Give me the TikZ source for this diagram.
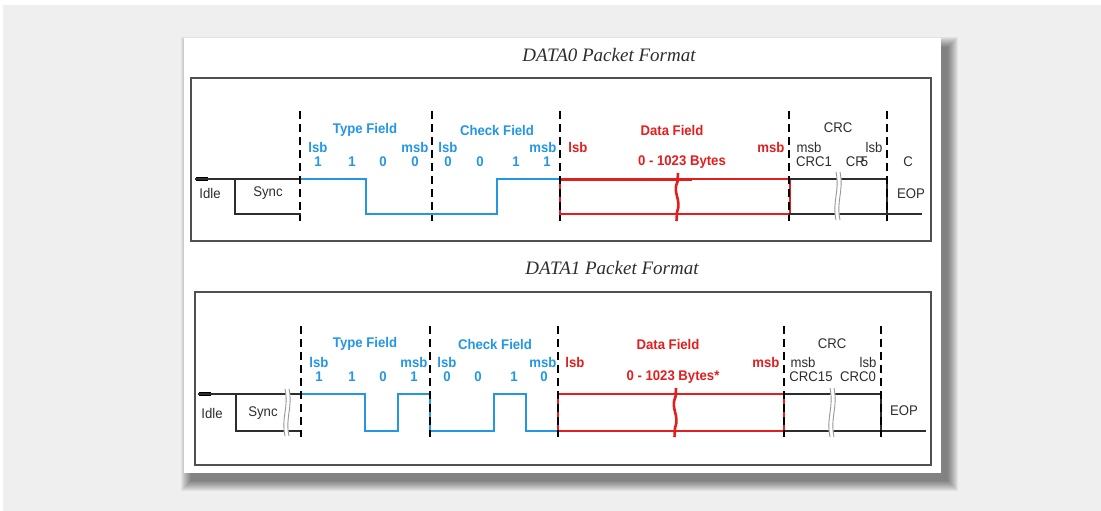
\documentclass[tikz,border=0pt]{standalone}
\usepackage{fontspec}
\setmainfont{Liberation Serif}
\newfontfamily\labelfont[FakeStretch=0.94]{Liberation Sans}

\definecolor{panelgray}{RGB}{239,239,239}
\definecolor{fieldblue}{RGB}{35,150,230}
\definecolor{fieldred}{RGB}{226,30,30}
\definecolor{ink}{RGB}{45,45,45}
\definecolor{framegray}{RGB}{80,80,80}
\definecolor{breakgray}{RGB}{150,150,150}

% a wavy "gap" mark that interrupts the signal lines: x, top y, height
\newcommand\waveBreak[3]{%
  \begin{scope}[shift={(#1,#2)}]
    \draw[white,line width=4.5pt] (0,0) .. controls (4,{#3*0.4}) and (-4,{#3*0.6}) .. (0,#3);
    \draw[breakgray,line width=.9pt,xshift=-2pt] (0,0) .. controls (4,{#3*0.4}) and (-4,{#3*0.6}) .. (0,#3);
    \draw[breakgray,line width=.9pt,xshift=2pt] (0,0) .. controls (4,{#3*0.4}) and (-4,{#3*0.6}) .. (0,#3);
  \end{scope}}

% the red elision mark across the data field: x, top y, height
\newcommand\dataBreak[3]{%
  \begin{scope}[shift={(#1,#2)}]
    \draw[fieldred,line width=2.6pt] (1,0) -- (0.5,{#3*0.18}) .. controls (-5,{#3*0.42}) and (5,{#3*0.55}) .. (0,{#3*0.82}) -- (-0.5,#3);
  \end{scope}}

\tikzset{
  sig/.style={line width=1.8pt, line join=miter, line cap=rect},
  bluesig/.style={sig, draw=fieldblue},
  redsig/.style={sig, draw=fieldred, line width=2.2pt},
  blacksig/.style={sig, draw=ink},
  idlesig/.style={draw=black, line width=3.5pt},
  divider/.style={draw=black, line width=2.8pt, dash pattern=on 8pt off 5pt},
  panel/.style={draw=framegray, line width=1.6pt},
  lbl/.style={inner sep=0pt, font=\labelfont\fontsize{14}{16}\selectfont, text=ink},
  blbl/.style={inner sep=0pt, font=\labelfont\bfseries\fontsize{14}{16}\selectfont, text=fieldblue},
  rlbl/.style={blbl, text=fieldred},
  title/.style={inner sep=0pt, font=\itshape\fontsize{19}{21}\selectfont, text=ink}
}

\begin{document}
\begin{tikzpicture}[x=1pt,y=-1pt]
\useasboundingbox (0,0) rectangle (1101,511);
\fill[white] (0,0) rectangle (1101,511);
\fill[panelgray] (3,5) rectangle (1101,511);

% soft drop shadow behind the card
\foreach \e in {10,9,...,0}
  \fill[black,opacity=0.05] ({191-\e},{47-\e}) rectangle ({948+\e},{481+\e});
\fill[white] (184,38) rectangle (941,473);

% ---------------- DATA0 ----------------
\node[title] (t0) at (609,55) {DATA0 Packet Format};
\draw[panel] (191,78) rectangle (931,241);

\coordinate (a0) at (196,179);
\draw[idlesig] (a0) -- ++(12,0);
\draw[blacksig] (a0) -- (300,179);
\draw[blacksig] (235,179) -- (235,214) -- (300,214);

\draw[bluesig] (300,179) -- (366,179) -- (366,214) -- (497,214) -- (497,179) -- (560,179);
\draw[redsig] (560,179) rectangle (790,214);
\draw[fieldred,line width=3pt] (560,179) -- (692,179);
\dataBreak{677}{173}{48}
\draw[blacksig] (790,179) -- (887,179) -- (887,214);
\draw[blacksig] (790,214) -- (921,214);
\waveBreak{838}{172}{48}

\foreach \x in {300,432,560,789,887}
  \draw[divider] (\x,111) -- (\x,221);

\node[lbl] (idle0) at (210,193) {Idle};
\node[lbl] (sync0) at (268,193) {Sync};

\node[blbl] (type0) at (365,130) {Type Field};
\node[blbl] at (318,147) {lsb};
\node[blbl] at (415,147) {msb};
\node[blbl] at (318,162) {1};
\node[blbl] at (352,162) {1};
\node[blbl] at (383,162) {0};
\node[blbl] at (415,162) {0};

\node[blbl] (check0) at (497,130) {Check Field};
\node[blbl] at (448,147) {lsb};
\node[blbl] at (543,147) {msb};
\node[blbl] at (448,162) {0};
\node[blbl] at (480,162) {0};
\node[blbl] at (516,162) {1};
\node[blbl] at (547,162) {1};

\node[rlbl] (data0) at (672,130) {Data Field};
\node[rlbl] at (578,147) {lsb};
\node[rlbl] at (771,147) {msb};
\node[rlbl] at (682,162) {0 - 1023 Bytes};

\node[lbl] (crc0) at (838,128) {CRC};
\node[lbl] at (809,147) {msb};
\node[lbl] at (874,147) {lsb};
\node[lbl] at (814,162) {CRC1};
\node[lbl] at (857,162) {CR\kern-4pt 5};
\node[lbl] at (908,162) {C};
\node[lbl] (eop0) at (911,194) {EOP};

% ---------------- DATA1 ----------------
\node[title] (t1) at (612,268) {DATA1 Packet Format};
\draw[panel] (195,292) rectangle (931,465);

\coordinate (a1) at (199,394);
\draw[idlesig] (a1) -- ++(12,0);
\draw[blacksig] (a1) -- (301,394);
\draw[blacksig] (236,394) -- (236,431) -- (301,431);
\waveBreak{287}{389}{47}

\draw[bluesig] (301,394) -- (365,394) -- (365,431) -- (398,431) -- (398,394) -- (430,394)
  -- (430,431) -- (494,431) -- (494,394) -- (526,394) -- (526,431) -- (558,431);
\draw[redsig] (558,394) rectangle (784,431);
\dataBreak{675}{388}{49}
\draw[blacksig] (784,394) -- (881,394) -- (881,431);
\draw[blacksig] (784,431) -- (925,431);
\waveBreak{832}{388}{49}

\foreach \x in {301,430,558,784,881}
  \draw[divider] (\x,326) -- (\x,437);

\node[lbl] (idle1) at (212,413) {Idle};
\node[lbl] (sync1) at (263,413) {Sync};

\node[blbl] (type1) at (365,344) {Type Field};
\node[blbl] at (319,362) {lsb};
\node[blbl] at (414,362) {msb};
\node[blbl] at (319,377) {1};
\node[blbl] at (352,377) {1};
\node[blbl] at (383,377) {0};
\node[blbl] at (414,377) {1};

\node[blbl] (check1) at (495,344) {Check Field};
\node[blbl] at (447,362) {lsb};
\node[blbl] at (543,362) {msb};
\node[blbl] at (447,377) {0};
\node[blbl] at (478,377) {0};
\node[blbl] at (514,377) {1};
\node[blbl] at (544,377) {0};

\node[rlbl] (data1) at (668,344) {Data Field};
\node[rlbl] at (575,362) {lsb};
\node[rlbl] at (766,362) {msb};
\node[rlbl] at (673,377) {0 - 1023 Bytes*};

\node[lbl] (crc1) at (832,344) {CRC};
\node[lbl] at (803,362) {msb};
\node[lbl] at (868,362) {lsb};
\node[lbl] at (811,377) {CRC15};
\node[lbl] at (858,377) {CRC0};
\node[lbl] (eop1) at (904,411) {EOP};
\end{tikzpicture}
\end{document}
